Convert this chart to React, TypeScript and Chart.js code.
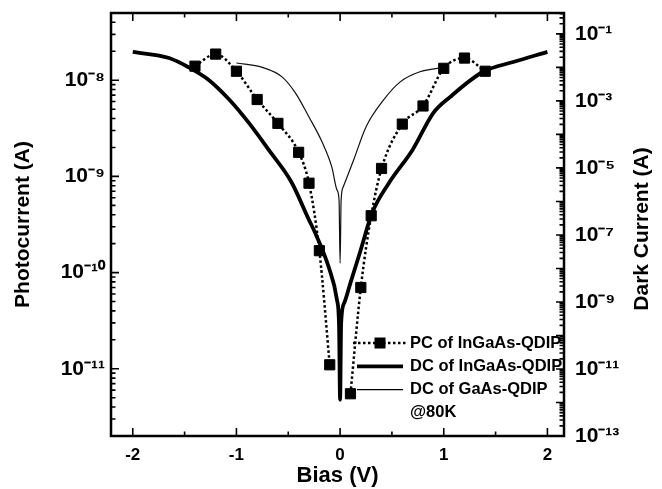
import React, { useEffect, useRef } from "react";
import { Chart, registerables } from "chart.js";

Chart.register(...registerables);

// ---- data ----
const PC_BIAS = [-1.4, -1.2, -1.0, -0.8, -0.6, -0.4, -0.3, -0.2, -0.1, 0, 0.1, 0.2, 0.3, 0.4, 0.6, 0.8, 1.0, 1.2, 1.4];
const PC_CURRENT = [1.4e-8, 1.87e-8, 1.24e-8, 6.3e-9, 3.56e-9, 1.78e-9, 8.5e-10, 1.69e-10, 1.1e-11, null, 5.5e-12, 7.0e-11, 3.9e-10, 1.21e-9, 3.5e-9, 5.4e-9, 1.33e-8, 1.7e-8, 1.24e-8];

const DC_INGAAS_BIAS = [-2.0, -1.65, -1.46, -1.27, -1.07, -0.88, -0.69, -0.47, -0.3, -0.24, -0.11, -0.03, -0.01, 0, 0.01, 0.04, 0.1, 0.19, 0.31, 0.47, 0.7, 0.9, 1.06, 1.38, 1.67, 2.0];
const DC_INGAAS = [2.9e-2, 1.9e-2, 1.0e-2, 4.3e-3, 1.1e-3, 2.2e-4, 3.5e-5, 3.8e-6, 2.8e-7, 1.15e-7, 1.1e-8, 1.15e-9, 2.0e-10, 1.2e-12, 2.3e-10, 9.3e-10, 3.7e-9, 2.9e-8, 4.6e-7, 3.5e-6, 3.5e-5, 4.4e-4, 1.3e-3, 7.4e-3, 1.45e-2, 2.9e-2];

const DC_GAAS_BIAS = [-1.0, -0.75, -0.56, -0.43, -0.3, -0.17, -0.08, -0.03, -0.01, 0, 0.01, 0.03, 0.13, 0.25, 0.42, 0.58, 0.77, 1.0];
const DC_GAAS = [1.35e-2, 1.0e-2, 5.2e-3, 1.7e-3, 3.3e-4, 5.6e-5, 1.07e-5, 2.2e-6, 1.1e-6, 1.45e-8, 1.1e-6, 2.7e-6, 1.7e-5, 1.66e-4, 1.07e-3, 3.7e-3, 7.4e-3, 1.0e-2];

const SERIES_LABELS = ["PC of InGaAs-QDIP", "DC of InGaAs-QDIP", "DC of GaAs-QDIP"];
const NOTE = "@80K";

const X_TICKS = [-2, -1, 0, 1, 2];
const X_MINOR = [-1.5, -0.5, 0.5, 1.5];
const LEFT_TICKS = [1e-11, 1e-10, 1e-9, 1e-8];
const LEFT_LABELS = ["10⁻¹¹", "10⁻¹⁰", "10⁻⁹", "10⁻⁸"];
const RIGHT_TICKS = [1e-13, 1e-11, 1e-9, 1e-7, 1e-5, 1e-3, 1e-1];
const RIGHT_LABELS = ["10⁻¹³", "10⁻¹¹", "10⁻⁹", "10⁻⁷", "10⁻⁵", "10⁻³", "10⁻¹"];

const X_TITLE = "Bias (V)";
const LEFT_TITLE = "Photocurrent (A)";
const RIGHT_TITLE = "Dark Current (A)";

const FONT = '"Liberation Sans", Arial, Helvetica, sans-serif';

const zip = (xs: number[], ys: (number | null)[]) => xs.map((x, i) => ({ x, y: ys[i] }));

const framePlugin = {
  id: "frameTicks",
  afterDatasetsDraw(chart: any) {
    const { ctx, chartArea } = chart;
    const { left, right, top, bottom } = chartArea;
    const xs = chart.scales.x;
    const yl = chart.scales.y;
    const yr = chart.scales.y1;
    ctx.save();
    ctx.strokeStyle = "#000";
    ctx.lineWidth = 1.6;
    ctx.beginPath();
    const major = 8;
    const minor = 4.5;
    X_TICKS.concat(X_MINOR).forEach((v) => {
      const len = X_TICKS.includes(v) ? major : minor;
      const px = xs.getPixelForValue(v);
      ctx.moveTo(px, bottom);
      ctx.lineTo(px, bottom - len);
      ctx.moveTo(px, top);
      ctx.lineTo(px, top + len);
    });
    for (let e = -13; e <= -7; e++) {
      for (let s = 1; s <= 9; s++) {
        const v = s * Math.pow(10, e);
        if (v < yl.min || v > yl.max) continue;
        const py = yl.getPixelForValue(v);
        const len = s === 1 ? major : minor;
        ctx.moveTo(left, py);
        ctx.lineTo(left + len, py);
      }
    }
    for (let e = -13; e <= 0; e++) {
      for (let s = 1; s <= 9; s++) {
        const v = s * Math.pow(10, e);
        if (v < yr.min || v > yr.max) continue;
        const py = yr.getPixelForValue(v);
        const len = s === 1 ? major : minor;
        ctx.moveTo(right, py);
        ctx.lineTo(right - len, py);
      }
    }
    ctx.stroke();
    ctx.lineWidth = 2.5;
    ctx.strokeRect(left, top, right - left, bottom - top);
    ctx.restore();
  },
  afterDraw(chart: any) {
    const { ctx, chartArea } = chart;
    const { right, bottom } = chartArea;
    ctx.save();
    ctx.fillStyle = "#000";
    ctx.font = `bold 21px ${FONT}`;
    ctx.textAlign = "center";
    ctx.textBaseline = "middle";
    ctx.translate(642, 229);
    ctx.rotate(-Math.PI / 2);
    ctx.fillText(RIGHT_TITLE, 0, 0);
    ctx.restore();

    ctx.save();
    const tx = right - 154;
    const y0 = bottom - 93;
    const step = 23.3;
    ctx.font = `bold 16.5px ${FONT}`;
    ctx.fillStyle = "#000";
    ctx.strokeStyle = "#000";
    ctx.textAlign = "left";
    ctx.textBaseline = "middle";
    chart.data.datasets.forEach((ds: any, i: number) => {
      const yy = y0 + i * step;
      ctx.lineWidth = ds.borderWidth;
      ctx.setLineDash(ds.borderDash || []);
      ctx.beginPath();
      if (i === 0) {
        ctx.moveTo(tx - 57, yy);
        ctx.lineTo(tx - 4, yy);
      } else {
        ctx.moveTo(tx - 53, yy);
        ctx.lineTo(tx - 7, yy);
      }
      ctx.stroke();
      ctx.setLineDash([]);
      if (ds.pointRadius > 0) {
        ctx.fillRect(tx - 30 - 5.5, yy - 5.5, 11, 11);
      }
      ctx.fillText(ds.label, tx, yy);
    });
    ctx.fillText(NOTE, tx, y0 + 3 * step);
    ctx.restore();
  },
};

export default function App() {
  const ref = useRef<HTMLCanvasElement | null>(null);
  useEffect(() => {
    if (!ref.current) return;
    Chart.defaults.font.family = FONT;
    Chart.defaults.color = "#000";
    const chart = new Chart(ref.current, {
      type: "line",
      data: {
        datasets: [
          {
            label: SERIES_LABELS[0],
            data: zip(PC_BIAS, PC_CURRENT),
            yAxisID: "y",
            borderColor: "#000",
            backgroundColor: "#000",
            borderWidth: 2.5,
            borderDash: [2.5, 2.5],
            pointStyle: "rect",
            pointRadius: 7.2,
            pointBorderWidth: 1,
            pointBackgroundColor: "#000",
            pointBorderColor: "#000",
            cubicInterpolationMode: "monotone",
            spanGaps: false,
            order: 0,
          },
          {
            label: SERIES_LABELS[1],
            data: zip(DC_INGAAS_BIAS, DC_INGAAS),
            yAxisID: "y1",
            borderColor: "#000",
            borderWidth: 3.8,
            pointRadius: 0,
            cubicInterpolationMode: "monotone",
            order: 1,
          },
          {
            label: SERIES_LABELS[2],
            data: zip(DC_GAAS_BIAS, DC_GAAS),
            yAxisID: "y1",
            borderColor: "#111",
            borderWidth: 1.2,
            pointRadius: 0,
            cubicInterpolationMode: "monotone",
            order: 2,
          },
        ],
      },
      options: {
        animation: false,
        responsive: false,
        maintainAspectRatio: false,
        layout: { padding: { top: 13, left: 0, right: 0, bottom: 0 } },
        plugins: {
          legend: { display: false },
          tooltip: { enabled: false },
        },
        scales: {
          x: {
            type: "linear",
            position: "bottom",
            min: -2.21,
            max: 2.16,
            afterBuildTicks: (s: any) => {
              s.ticks = X_TICKS.map((v) => ({ value: v }));
            },
            afterFit: (s: any) => {
              s.height = 53;
              s.paddingLeft = 0;
              s.paddingRight = 0;
            },
            grid: { display: false, drawTicks: false },
            border: { display: false },
            ticks: {
              autoSkip: false,
              maxRotation: 0,
              padding: 9,
              color: "#000",
              font: { size: 17, weight: "bold" },
              callback: (v: any) => String(v),
            },
            title: {
              display: true,
              text: X_TITLE,
              color: "#000",
              font: { size: 22, weight: "bold" },
              padding: { top: 0, bottom: 0 },
            },
          },
          y: {
            type: "logarithmic",
            position: "left",
            min: 2e-12,
            max: 5e-8,
            afterBuildTicks: (s: any) => {
              s.ticks = LEFT_TICKS.map((v) => ({ value: v }));
            },
            afterFit: (s: any) => {
              s.width = 111;
              s.paddingTop = 0;
              s.paddingBottom = 0;
            },
            grid: { display: false, drawTicks: false },
            border: { display: false },
            ticks: {
              autoSkip: false,
              padding: 6,
              color: "#000",
              font: { size: 21, weight: "bold" },
              callback: (_v: any, i: number) => LEFT_LABELS[i],
            },
            title: {
              display: true,
              text: LEFT_TITLE,
              color: "#000",
              font: { size: 21, weight: "bold" },
              padding: { top: 11, bottom: 0 },
            },
          },
          y1: {
            type: "logarithmic",
            position: "right",
            min: 1e-13,
            max: 0.42,
            afterBuildTicks: (s: any) => {
              s.ticks = RIGHT_TICKS.map((v) => ({ value: v }));
            },
            afterFit: (s: any) => {
              s.width = 98;
              s.paddingTop = 0;
              s.paddingBottom = 0;
            },
            grid: { display: false, drawTicks: false },
            border: { display: false },
            ticks: {
              autoSkip: false,
              padding: 11,
              color: "#000",
              font: { size: 21, weight: "bold" },
              callback: (_v: any, i: number) => RIGHT_LABELS[i],
            },
            title: { display: false },
          },
        },
      },
      plugins: [framePlugin],
    } as any);
    return () => chart.destroy();
  }, []);

  return (
    <div style={{ position: "fixed", left: 0, top: 0, width: 662, height: 489, background: "#fff" }}>
      <canvas ref={ref} width={662} height={489} style={{ display: "block", width: 662, height: 489 }} />
    </div>
  );
}
